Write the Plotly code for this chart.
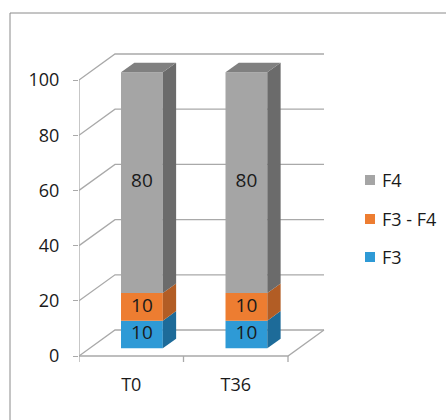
import plotly.graph_objects as go

# ---- data -------------------------------------------------------------
categories = ["T0", "T36"]
series_names = ["F3", "F3 - F4", "F4"]
f3_values = [10, 10]
f3_f4_values = [10, 10]
f4_values = [80, 80]
y_ticks = [0, 20, 40, 60, 80, 100]

series_values = [f3_values, f3_f4_values, f4_values]

# face colours: (front, side, top)
series_colors = [
    ("#2E9AD6", "#1D6B99", "#257FB2"),
    ("#ED7D31", "#B25D25", "#C9692A"),
    ("#A5A5A5", "#6B6B6B", "#808080"),
]

# ---- layout geometry --------------------------------------------------
W, H = 446, 420
ML, MR, MT, MB = 79, 106, 40, 50
PLOT_W = W - ML - MR
PLOT_H = H - MT - MB
PX_PER_CAT = 104.5          # pixels per category slot on the front plane
PX_PER_VAL = 2.76           # pixels per value unit
FLOOR_PX = 356              # pixel row of value 0 on the front plane

x_range = [0, PLOT_W / PX_PER_CAT]
y_range = [(FLOOR_PX - (MT + PLOT_H)) / PX_PER_VAL, (FLOOR_PX - MT) / PX_PER_VAL]

# oblique depth offset (full depth of the box) in axis units
DX = 36 / PX_PER_CAT
DY = 26 / PX_PER_VAL
F_FRONT, F_BACK = 0.296, 0.666   # bar depth span as a fraction of the box
HALF_W = 0.2

GRID = "#A9A9A9"
TEXT = "#1A1A1A"
FONT = "Open Sans"
FSIZE = 18
LABEL_SIZE = 19


def proj(x, v, f):
    return x + f * DX, v + f * DY


def px_to_paper(px, py):
    return (px - ML) / PLOT_W, (MT + PLOT_H - py) / PLOT_H


fig = go.Figure()

# ---- walls, floor and gridlines ---------------------------------------
n = len(categories)
gx, gy = [], []
for v in y_ticks:
    a = proj(0, v, 0)
    b = proj(0, v, 1)
    c = proj(n, v, 1)
    gx += [a[0], b[0], c[0], None]
    gy += [a[1], b[1], c[1], None]
# floor front edge and right edge
gx += [0, n, n + DX, None]
gy += [0, 0, DY, None]
# front value axis
gx += [0, 0, None]
gy += [0, max(y_ticks), None]
# category tick marks
for k in range(n + 1):
    gx += [k, k, None]
    gy += [0, -6 / PX_PER_VAL, None]
fig.add_trace(go.Scatter(x=gx, y=gy, mode="lines",
                         line=dict(color=GRID, width=1.3),
                         hoverinfo="skip", showlegend=False))

# ---- 3D stacked bars ---------------------------------------------------
def poly(points, color):
    xs = [p[0] for p in points] + [points[0][0]]
    ys = [p[1] for p in points] + [points[0][1]]
    fig.add_trace(go.Scatter(x=xs, y=ys, mode="lines", fill="toself",
                             fillcolor=color, line=dict(width=0, color=color),
                             hoverinfo="skip", showlegend=False))


label_x, label_y, label_t = [], [], []
for i, cat in enumerate(categories):
    c = i + 0.5
    base = 0
    for s, vals in enumerate(series_values):
        val = vals[i]
        top = base + val
        front_c, side_c, top_c = series_colors[s]
        l, r = c - HALF_W, c + HALF_W
        poly([proj(l, base, F_FRONT), proj(r, base, F_FRONT),
              proj(r, top, F_FRONT), proj(l, top, F_FRONT)], front_c)
        poly([proj(r, base, F_FRONT), proj(r, base, F_BACK),
              proj(r, top, F_BACK), proj(r, top, F_FRONT)], side_c)
        if s == len(series_values) - 1:
            poly([proj(l, top, F_FRONT), proj(r, top, F_FRONT),
                  proj(r, top, F_BACK), proj(l, top, F_BACK)], top_c)
        lx, ly = proj(c, (base + top) / 2, F_FRONT)
        label_x.append(lx)
        label_y.append(ly)
        label_t.append(str(val))
        base = top

fig.add_trace(go.Scatter(x=label_x, y=label_y, text=label_t, mode="text",
                         textfont=dict(family=FONT, size=LABEL_SIZE, color=TEXT),
                         textposition="middle center",
                         hoverinfo="skip", showlegend=False))

# ---- legend (top entry = top of stack) --------------------------------
shapes = []
annotations = []
legend_rows = [180, 219, 257]
for row, s in zip(legend_rows, reversed(range(len(series_names)))):
    x0, y0 = px_to_paper(365, row + 5)
    x1, y1 = px_to_paper(375, row - 5)
    shapes.append(dict(type="rect", xref="paper", yref="paper",
                       x0=x0, y0=y0, x1=x1, y1=y1,
                       fillcolor=series_colors[s][0], line=dict(width=0)))
    tx, ty = px_to_paper(380, row)
    annotations.append(dict(xref="paper", yref="paper", x=tx, y=ty,
                            xanchor="left", yanchor="middle", showarrow=False,
                            text=series_names[s],
                            font=dict(family=FONT, size=FSIZE, color=TEXT)))

# chart frame
bx0, by1 = px_to_paper(10, 13)
bx1, by0 = px_to_paper(460, 440)
shapes.append(dict(type="rect", xref="paper", yref="paper",
                   x0=bx0, y0=by0, x1=bx1, y1=by1,
                   line=dict(color="#8A8A8A", width=1), layer="below"))

fig.update_layout(
    width=W, height=H,
    margin=dict(l=ML, r=MR, t=MT, b=MB, pad=0),
    paper_bgcolor="white", plot_bgcolor="white",
    showlegend=False,
    shapes=shapes, annotations=annotations,
    font=dict(family=FONT, size=FSIZE, color=TEXT),
    xaxis=dict(range=x_range, tickvals=[i + 0.5 for i in range(n)],
               ticktext=categories, ticks="", showgrid=False,
               zeroline=False, showline=False, fixedrange=True,
               ticklabelstandoff=2),
    yaxis=dict(range=y_range, tickvals=y_ticks, ticks="outside", ticklen=5,
               tickcolor=GRID, tickwidth=1.3, showgrid=False,
               zeroline=False, showline=False, fixedrange=True,
               ticklabelstandoff=10),
)

fig.write_html("out.html")
